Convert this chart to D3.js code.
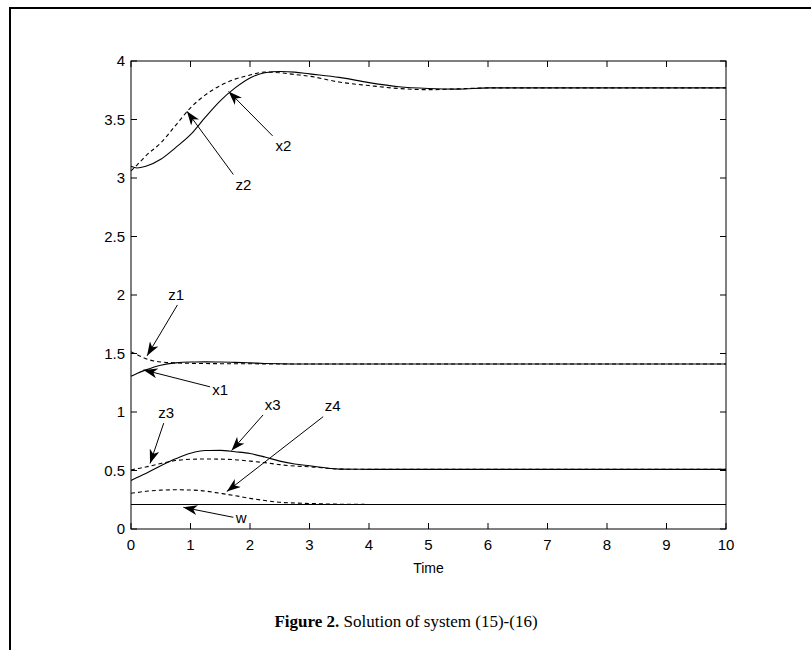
<!DOCTYPE html>
<html><head><meta charset="utf-8">
<script src="https://cdn.jsdelivr.net/npm/d3@7"></script>
<style>body{margin:0;background:#fff}svg{display:block}</style>
</head><body><div id="chart"></div>
<script>
const time = [0,0.1,0.25,0.5,0.75,1,1.25,1.5,1.75,2,2.25,2.5,2.75,3,3.5,4,4.5,5,5.5,6,7,8,9,10];
const x2 = [3.10,3.085,3.10,3.16,3.26,3.37,3.52,3.66,3.77,3.855,3.90,3.91,3.905,3.89,3.86,3.815,3.78,3.765,3.76,3.77,3.77,3.77,3.77,3.77];
const z2 = [3.06,3.11,3.19,3.30,3.45,3.60,3.71,3.79,3.845,3.88,3.905,3.90,3.885,3.87,3.82,3.79,3.765,3.755,3.762,3.77,3.77,3.77,3.77,3.77];
const x1 = [1.305,1.33,1.36,1.40,1.42,1.427,1.428,1.427,1.424,1.42,1.415,1.412,1.41,1.41,1.41,1.41,1.41,1.41,1.41,1.41,1.41,1.41,1.41,1.41];
const z1 = [1.515,1.49,1.455,1.428,1.42,1.416,1.414,1.413,1.412,1.412,1.411,1.41,1.41,1.41,1.41,1.41,1.41,1.41,1.41,1.41,1.41,1.41,1.41,1.41];
const x3 = [0.415,0.44,0.475,0.54,0.60,0.648,0.671,0.672,0.66,0.645,0.615,0.58,0.555,0.54,0.512,0.51,0.51,0.51,0.51,0.51,0.51,0.51,0.51,0.51];
const z3 = [0.505,0.515,0.53,0.56,0.585,0.596,0.598,0.597,0.592,0.58,0.567,0.55,0.538,0.532,0.512,0.51,0.51,0.51,0.51,0.51,0.51,0.51,0.51,0.51];
const z4 = [0.305,0.312,0.322,0.332,0.335,0.333,0.324,0.305,0.285,0.262,0.243,0.228,0.222,0.218,0.212,0.21,0.21,0.21,0.21,0.21,0.21,0.21,0.21,0.21];
const w  = [0.21,0.21,0.21,0.21,0.21,0.21,0.21,0.21,0.21,0.21,0.21,0.21,0.21,0.21,0.21,0.21,0.21,0.21,0.21,0.21,0.21,0.21,0.21,0.21];
const xTicks = [0,1,2,3,4,5,6,7,8,9,10];
const yTicks = [0,0.5,1,1.5,2,2.5,3,3.5,4];
const xLabel = "Time";
const captionBold = "Figure 2.";
const captionText = " Solution of system (15)-(16)";
// annotations: label, label position (t,y), arrow tail (t,y), arrow tip (t,y)
const annLabels = ["z2","x2","z1","x1","z3","x3","z4","w"];
const annText = [[1.89,2.94],[2.56,3.27],[0.76,2.0],[1.50,1.19],[0.59,0.99],[2.38,1.06],[3.39,1.05],[1.85,0.09]];
const annTail = [[1.72,3.03],[2.38,3.36],[0.78,1.915],[1.33,1.215],[0.55,0.905],[2.22,0.975],[3.23,0.96],[1.72,0.10]];
const annTip  = [[0.94,3.57],[1.64,3.74],[0.27,1.48],[0.21,1.36],[0.32,0.56],[1.69,0.67],[1.61,0.32],[0.88,0.185]];

const W = 811, H = 650;
const svg = d3.select("#chart").append("svg").attr("width", W).attr("height", H);
// outer frame (top and left)
svg.append("path").attr("d", "M10,650 L10,8 L811,8").attr("fill","none").attr("stroke","#000").attr("stroke-width",2);

const L = 131, R = 726, T = 61, B = 529;
const x = d3.scaleLinear().domain([0,10]).range([L,R]);
const y = d3.scaleLinear().domain([0,4]).range([B,T]);

const g = svg.append("g");
const tk = 6;
xTicks.forEach(v => {
  g.append("line").attr("x1",x(v)).attr("x2",x(v)).attr("y1",B).attr("y2",B-tk).attr("stroke","#000");
  g.append("line").attr("x1",x(v)).attr("x2",x(v)).attr("y1",T).attr("y2",T+tk).attr("stroke","#000");
});
yTicks.forEach(v => {
  g.append("line").attr("x1",L).attr("x2",L+tk).attr("y1",y(v)).attr("y2",y(v)).attr("stroke","#000");
  g.append("line").attr("x1",R).attr("x2",R-tk).attr("y1",y(v)).attr("y2",y(v)).attr("stroke","#000");
});
const font = "'Liberation Sans', Arial, sans-serif";
const fs = 15;
g.selectAll(".xl").data(xTicks).join("text").attr("x",d=>x(d)).attr("y",B+21)
  .attr("text-anchor","middle").attr("font-family",font).attr("font-size",fs).text(d=>d);
g.selectAll(".yl").data(yTicks).join("text").attr("x",L-6).attr("y",d=>y(d)+5)
  .attr("text-anchor","end").attr("font-family",font).attr("font-size",fs).text(d=>d);
g.append("text").attr("x",x(5)).attr("y",B+44).attr("text-anchor","middle")
  .attr("font-family",font).attr("font-size",14).text(xLabel);

const line = d3.line().x((d,i)=>x(time[i])).y(d=>y(d)).curve(d3.curveMonotoneX);
const series = [[w,false],[x1,false],[x2,false],[x3,false],[z1,true],[z2,true],[z3,true],[z4,true]];
series.forEach(([s,dash]) => {
  svg.append("path").attr("d", line(s)).attr("fill","none").attr("stroke","#000")
    .attr("stroke-width",1.1).attr("stroke-dasharray", dash ? "4,3" : null);
});

svg.append("rect").attr("x",L).attr("y",T).attr("width",R-L).attr("height",B-T)
  .attr("fill","none").attr("stroke","#000").attr("stroke-width",1);

const defs = svg.append("defs");
defs.append("marker").attr("id","ah").attr("viewBox","0 0 14 10").attr("refX",14).attr("refY",5)
  .attr("markerWidth",14).attr("markerHeight",10).attr("markerUnits","userSpaceOnUse").attr("orient","auto")
  .append("path").attr("d","M0,0 L14,5 L0,10 L4,5 Z").attr("fill","#000");
annLabels.forEach((lab,i) => {
  svg.append("line").attr("x1",x(annTail[i][0])).attr("y1",y(annTail[i][1]))
    .attr("x2",x(annTip[i][0])).attr("y2",y(annTip[i][1])).attr("stroke","#000").attr("stroke-width",1)
    .attr("marker-end","url(#ah)");
  svg.append("text").attr("x",x(annText[i][0])).attr("y",y(annText[i][1])+5).attr("text-anchor","middle")
    .attr("font-family",font).attr("font-size",fs).text(lab);
});

const cap = svg.append("text").attr("x",406).attr("y",627).attr("text-anchor","middle")
  .attr("font-family","'Liberation Serif','Times New Roman',serif").attr("font-size",17);
cap.append("tspan").attr("font-weight","bold").text(captionBold);
cap.append("tspan").text(captionText);
</script></body></html>
